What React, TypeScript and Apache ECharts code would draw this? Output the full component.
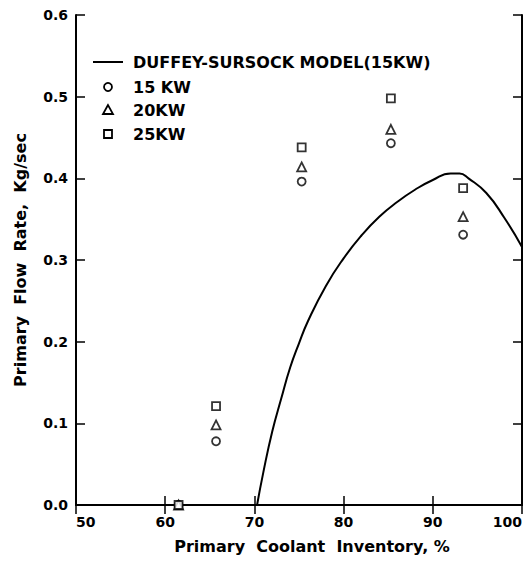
import React, { useEffect, useRef } from "react";
import * as echarts from "echarts";

const xTicks = [50, 60, 70, 80, 90, 100];
const yTicks = [0.0, 0.1, 0.2, 0.3, 0.4, 0.5, 0.6];

const modelCurve: [number, number][] = [
  [70.3, 0.0], [71, 0.04], [72, 0.09], [73, 0.13], [74, 0.168], [75, 0.198],
  [76, 0.225], [78, 0.268], [80, 0.302], [82, 0.33], [84, 0.353], [86, 0.371],
  [88, 0.386], [90, 0.398], [92, 0.406], [93, 0.406], [94, 0.4], [96, 0.382],
  [98, 0.352], [100, 0.316],
];

const kw15: [number, number][] = [[61.5, 0.0], [65.7, 0.078], [75.3, 0.396], [85.3, 0.443], [93.4, 0.331]];
const kw20: [number, number][] = [[61.5, 0.0], [65.7, 0.098], [75.3, 0.414], [85.3, 0.46], [93.4, 0.353]];
const kw25: [number, number][] = [[61.5, 0.0], [65.7, 0.121], [75.3, 0.438], [85.3, 0.498], [93.4, 0.388]];

const legendItems = ["DUFFEY-SURSOCK MODEL(15KW)", "15 KW", "20KW", "25KW"];

const FONT = "DejaVu Sans";

export default function App() {
  const ref = useRef<HTMLDivElement>(null);
  useEffect(() => {
    if (!ref.current) return;
    const chart = echarts.init(ref.current, null, { renderer: "svg" });
    const axisLine = { show: true, lineStyle: { color: "#000", width: 2 } };
    const tick = { show: true, inside: true, length: 9, lineStyle: { color: "#000", width: 1.5 } };
    const markerStyle = { color: "#fff", borderColor: "#000", borderWidth: 1.8 };
    const lx = 93;
    const ly = [62, 87, 110, 134];
    const legendG: any[] = [
      { type: "line", shape: { x1: lx, y1: ly[0], x2: lx + 30, y2: ly[0] }, style: { stroke: "#000", lineWidth: 2 } },
      { type: "circle", shape: { cx: lx + 15, cy: ly[1], r: 4 }, style: { fill: "#fff", stroke: "#000", lineWidth: 1.8 } },
      { type: "polygon", shape: { points: [[lx + 15, ly[2] - 5], [lx + 10, ly[2] + 4], [lx + 20, ly[2] + 4]] }, style: { fill: "#fff", stroke: "#000", lineWidth: 1.8 } },
      { type: "rect", shape: { x: lx + 11, y: ly[3] - 4, width: 8, height: 8 }, style: { fill: "#fff", stroke: "#000", lineWidth: 1.8 } },
    ];
    legendItems.forEach((t, i) => {
      legendG.push({
        type: "text",
        x: 133,
        y: ly[i],
        style: { text: t, fill: "#000", font: `bold 16px "${FONT}"`, verticalAlign: "middle" },
      });
    });
    chart.setOption({
      animation: false,
      backgroundColor: "#fff",
      grid: { left: 76, right: 7, top: 15, bottom: 56, containLabel: false },
      xAxis: [
        {
          type: "value", min: 50, max: 100, interval: 10,
          axisLine, axisTick: tick, splitLine: { show: false },
          axisLabel: {
            color: "#000", fontFamily: FONT, fontWeight: "bold", fontSize: 14, margin: 10,
            alignMinLabel: "left", alignMaxLabel: "right",
            formatter: (v: number) => (xTicks.includes(v) ? String(v) : ""),
          },
          name: "Primary  Coolant  Inventory, %", nameLocation: "middle", nameGap: 33,
          nameTextStyle: { color: "#000", fontFamily: FONT, fontSize: 16, fontWeight: "bold", padding: [0, 0, 0, 26] },
        },
        {
          type: "value", position: "top", min: 50, max: 100, interval: 10,
          axisLine, axisTick: tick, axisLabel: { show: false }, splitLine: { show: false },
        },
      ],
      yAxis: [
        {
          type: "value", min: 0, max: 0.6, interval: 0.1,
          axisLine, axisTick: tick, splitLine: { show: false },
          axisLabel: {
            color: "#000", fontFamily: FONT, fontWeight: "bold", fontSize: 14, margin: 8,
            formatter: (v: number) => { const r = Math.round(v * 10) / 10; return yTicks.includes(r) ? r.toFixed(1) : ""; },
          },
          name: "Primary  Flow  Rate,  Kg/sec", nameLocation: "middle", nameGap: 48,
          nameTextStyle: { color: "#000", fontFamily: FONT, fontSize: 16, fontWeight: "bold" },
        },
        {
          type: "value", position: "right", min: 0, max: 0.6, interval: 0.1,
          axisLine, axisTick: tick, axisLabel: { show: false }, splitLine: { show: false },
        },
      ],
      series: [
        { name: legendItems[0], type: "line", data: modelCurve, smooth: true, showSymbol: false, lineStyle: { color: "#000", width: 2 } },
        { name: legendItems[1], type: "scatter", data: kw15, symbol: "circle", symbolSize: 8, itemStyle: markerStyle },
        { name: legendItems[2], type: "scatter", data: kw20, symbol: "triangle", symbolSize: 9, itemStyle: markerStyle },
        { name: legendItems[3], type: "scatter", data: kw25, symbol: "rect", symbolSize: 8, itemStyle: markerStyle },
      ],
      graphic: legendG,
    });
    return () => chart.dispose();
  }, []);
  return <div ref={ref} style={{ position: "fixed", left: 0, top: 0, width: 529, height: 561 }} />;
}
